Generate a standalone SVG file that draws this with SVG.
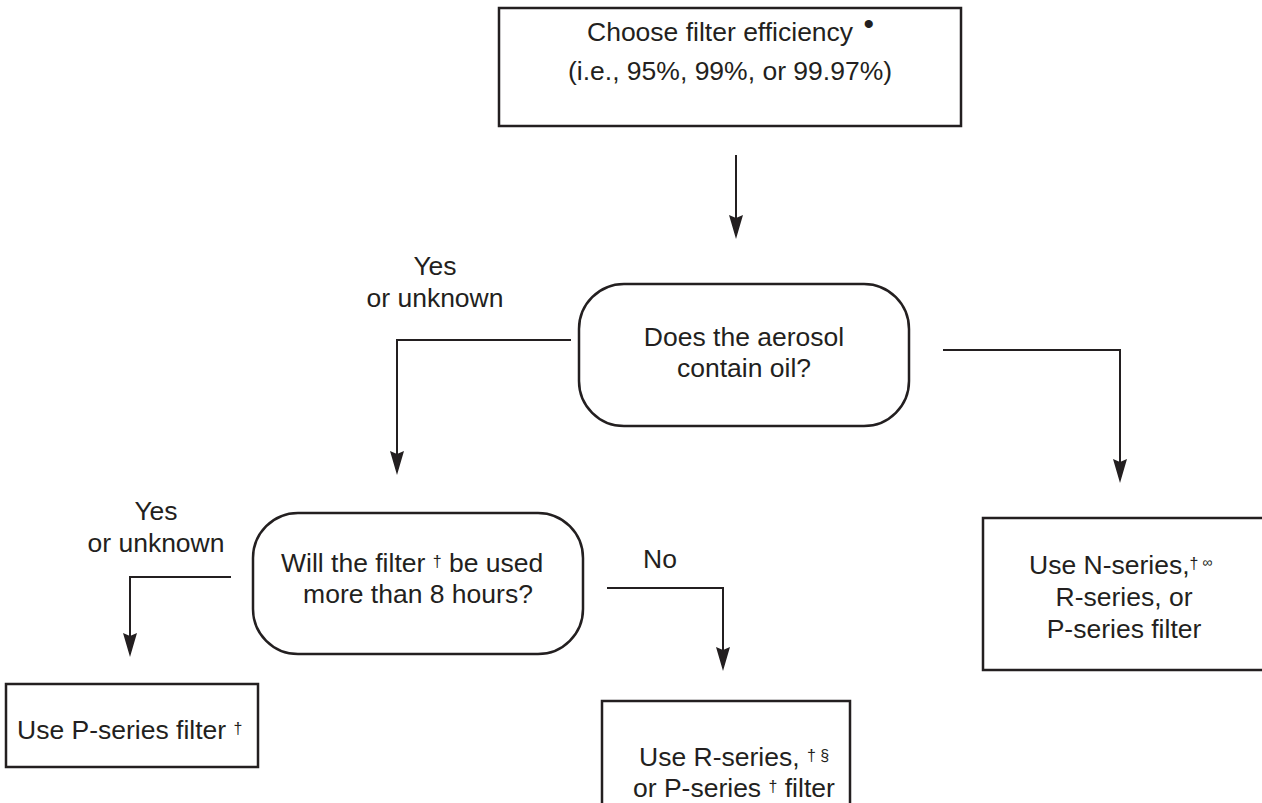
<svg xmlns="http://www.w3.org/2000/svg" width="1262" height="803" viewBox="0 0 1262 803">
<style>
.box{fill:#fff;stroke:#231f20;stroke-width:2.5}
.ln{fill:none;stroke:#231f20;stroke-width:2}
.t{font-family:"Liberation Sans",Arial,Helvetica,sans-serif;font-size:26.5px;fill:#231f20}
.c{text-anchor:middle}
.sup{font-size:16px}
</style>
<defs>
<marker id="ah" markerUnits="userSpaceOnUse" markerWidth="24" markerHeight="14" viewBox="0 0 24 14" refX="16" refY="7" orient="auto">
<path d="M0,0 L24,7 L0,14 L3,7 z" fill="#231f20"/>
</marker>
</defs>
<rect width="1262" height="803" fill="#fff"/>
<g id="connectors">
<path class="ln" d="M736,155 V231" marker-end="url(#ah)"/>
<path class="ln" d="M571,340 H397 V467" marker-end="url(#ah)"/>
<path class="ln" d="M943,350 H1120 V475" marker-end="url(#ah)"/>
<path class="ln" d="M231,577 H130 V649" marker-end="url(#ah)"/>
<path class="ln" d="M607,588 H723 V663" marker-end="url(#ah)"/>
<text class="t c" x="435" y="275">Yes</text>
<text class="t c" x="435" y="307">or unknown</text>
<text class="t c" x="156" y="520">Yes</text>
<text class="t c" x="156" y="552">or unknown</text>
<text class="t c" x="660" y="568">No</text>
</g>
<g id="n-efficiency">
<rect class="box" x="499" y="8" width="462" height="118"/>
<text class="t" x="587" y="41">Choose filter efficiency<tspan x="863.5" y="33.5" font-size="30">•</tspan></text>
<text class="t c" x="730" y="80">(i.e., 95%, 99%, or 99.97%)</text>
</g>
<g id="n-oil">
<rect class="box" x="579" y="284" width="330" height="142" rx="45" ry="45"/>
<text class="t c" x="744" y="346">Does the aerosol</text>
<text class="t c" x="744" y="377">contain oil?</text>
</g>
<g id="n-hours">
<rect class="box" x="253" y="513" width="330" height="141" rx="45" ry="45"/>
<text class="t" x="281" y="572">Will the filter <tspan class="sup" dy="-5">†</tspan><tspan dy="5"> be used</tspan></text>
<text class="t c" x="418" y="603">more than 8 hours?</text>
</g>
<g id="n-p">
<rect class="box" x="6" y="684" width="252" height="83"/>
<text class="t" x="17" y="739">Use P-series filter <tspan class="sup" dy="-5">†</tspan></text>
</g>
<g id="n-r">
<rect class="box" x="602" y="701" width="248" height="130"/>
<text class="t" x="639" y="766">Use R-series, <tspan class="sup" dy="-5">† §</tspan></text>
<text class="t" x="633" y="797">or P-series <tspan class="sup" dy="-5">†</tspan><tspan dy="5"> filter</tspan></text>
</g>
<g id="n-n">
<rect class="box" x="983" y="518" width="290" height="152"/>
<text class="t" x="1029" y="574">Use N-series,<tspan class="sup" dy="-5">†</tspan><tspan font-size="14" dy="-2"> ∞</tspan></text>
<text class="t c" x="1124" y="606">R-series, or</text>
<text class="t c" x="1124" y="638">P-series filter</text>
</g>
</svg>
